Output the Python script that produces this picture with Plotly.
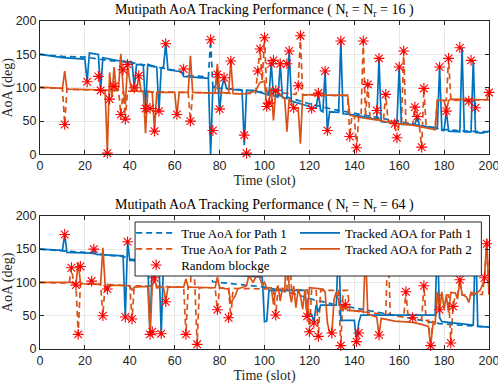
import plotly.graph_objects as go

# colours (MATLAB default order) and the blockage marker colour
BLUE = '#0072BD'
ORANGE = '#D95319'
RED = '#FF0000'
SERIF = 'Liberation Serif, Times New Roman, serif'
SANS = 'Liberation Sans, Arial, sans-serif'

# ---- data : (slot, AoA in deg) ----
# upper panel, Nt = Nr = 16
top_true1 = [(0,150),(10,147),(20,146),(30,141),(40,138),(50,132),(57,127),(62,125),(65,119),(75,116),(76,172),
             (77,100),(90,97),(100,93),(110,86),(120,76),(130,68),(140,62),(150,55),(160,49),(170,43),(178,38),
             (190,35),(200,34)]
top_true2 = [(0,100),(10,99),(11,45),(12,98),(20,97),(30,96),(35,96),(36,60),(37,95),(38,53),(39,95),(50,94),
             (60,93),(66,93),(67,50),(68,93),(80,92),(90,91),(96,92),(97,125),(98,158),(99,110),(100,175),(101,95),
             (110,92),(114,90),(115,103),(116,178),(117,89),(137,88),(138,27),(139,60),(140,58),(141,10),(142,57),
             (143,57),(144,170),(145,56),(146,105),(147,55),(153,52),(154,90),(155,51),(157,48),(158,46),(159,25),
             (160,47),(161,47),(162,155),(163,46),(166,44),(167,71),(168,57),(169,43),(170,11),(171,99),(172,42),
             (176,40),(177,81),(181,81),(182,144),(183,81),(200,82)]
top_track1 = [(0,150),(10,145),(20,143),(21,109),(22,152),(26,150),(27,96),(28,145),(34,141),(41,138),(42,100),
              (43,135),(46,134),(47,69),(48,135),(50,133),(52,131),(53,64),(54,130),(55,131),(56,166),(57,127),
              (60,126),(63,124),(64,117),(70,115),(75,114),(76,0),(77,102),(78,100),(79,120),(80,66),(81,100),
              (82,115),(83,99),(85,98),(90,96),(91,14),(92,96),(95,96),(100,91),(102,89),(103,136),(104,88),
              (106,86),(107,136),(108,85),(110,84),(111,155),(112,80),(116,76),(120,72),(121,69),(123,70),(124,92),
              (125,66),(126,64),(127,125),(128,36),(129,64),(133,63),(134,170),(135,61),(138,60),(145,56),(150,52),
              (151,144),(152,49),(159,47),(160,131),(161,45),(167,45),(168,57),(169,43),(177,40),(178,131),(179,36),
              (180,36),(181,65),(182,35),(187,34),(188,160),(189,34),(192,34),(193,141),(194,33),(197,32),(200,35)]
top_track2 = [(0,101),(10,99),(11,125),(12,98),(26,97),(29,95),(30,5),(31,123),(32,86),(33,131),(34,95),(35,100),
              (36,151),(37,100),(38,75),(39,134),(40,110),(41,95),(43,95),(44,118),(45,95),(46,95),(47,32),(48,95),
              (50,93),(51,35),(52,93),(60,93),(61,58),(62,93),(66,93),(67,148),(68,93),(78,92),(79,136),(80,93),
              (84,92),(85,141),(86,91),(92,91),(96,95),(98,108),(100,110),(101,72),(102,77),(103,100),(104,51),
              (105,96),(107,90),(109,84),(110,34),(111,84),(113,70),(115,69),(116,16),(117,89),(123,90),(124,94),
              (125,89),(137,89),(138,59),(143,55),(150,52),(157,47),(166,44),(170,41),(176,37),(177,81),(180,81),
              (181,65),(182,81),(183,83),(193,83),(194,82),(199,82),(200,93)]
top_block = [(11,45),(21,109),(26,117),(27,96),(30,2),(31,83),(33,102),(36,60),(37,127),(38,53),(39,135),(42,100),
             (44,118),(47,69),(49,69),(51,35),(53,65),(56,166),(61,60),(64,128),(67,50),(76,172),(77,36),(79,120),
             (80,68),(82,115),(85,140),(91,29),(92,2),(97,125),(98,158),(100,175),(101,72),(102,77),(103,136),
             (104,141),(105,96),(107,136),(110,136),(111,155),(113,70),(115,103),(116,178),(121,69),(124,92),
             (127,125),(128,36),(134,170),(138,27),(141,10),(144,170),(146,105),(150,66),(151,144),(154,90),(158,46),
             (159,25),(160,131),(162,155),(167,71),(168,57),(170,11),(171,99),(178,131),(181,65),(182,144),(187,160),
             (191,80),(192,141),(194,70),(200,93)]

# lower panel, Nt = Nr = 64
bot_true1 = [(0,150),(10,148),(20,145),(30,141),(37,139),(40,135),(50,132),(57,127),(62,125),(65,119),(75,116),
             (77,101),(90,97),(100,93),(110,86),(122,74),(130,68),(140,62),(150,55),(160,49),(170,43),(178,38),
             (190,35),(200,33)]
bot_true2 = [(0,100),(13,99),(14,122),(15,99),(16,99),(17,22),(18,98),(27,97),(28,50),(29,97),(40,95),(41,45),
             (42,95),(64,93),(65,22),(66,93),(67,93),(68,170),(69,93),(70,7),(71,92),(78,92),(79,59),(80,92),
             (84,91),(85,47),(86,91),(104,90),(105,51),(106,90),(110,89),(111,175),(112,89),(119,89),(120,26),
             (121,89),(123,89),(124,19),(125,88),(133,88),(134,5),(135,88),(137,88),(138,58),(154,52),(155,165),
             (156,51),(162,48),(163,86),(164,47),(170,44),(171,95),(172,43),(173,43),(174,5),(175,41),(176,40),
             (177,81),(182,81),(183,9),(184,64),(185,81),(186,81),(187,104),(188,81),(197,82),(198,107),(199,158),
             (200,82)]
bot_track1 = [(0,150),(10,148),(11,172),(12,145),(23,144),(24,150),(25,142),(37,140),(38,48),(39,161),(40,133),
              (48,132),(49,22),(50,130),(53,128),(54,23),(55,128),(57,127),(62,125),(65,120),(75,115),(77,111),
              (90,110),(99,108),(100,41),(101,42),(102,88),(118,88),(119,51),(121,52),(122,40),(123,66),(124,56),
              (125,66),(132,66),(133,170),(134,43),(140,43),(141,13),(142,40),(143,51),(176,51),(177,170),(178,47),
              (179,41),(193,36),(194,175),(195,34),(200,33)]
bot_track2 = [(0,100),(13,99),(14,100),(16,96),(17,130),(18,100),(19,98),(27,97),(28,152),(29,97),(30,90),(31,96),
              (40,95),(41,88),(42,93),(48,94),(49,25),(50,94),(51,107),(52,92),(55,93),(56,71),(57,93),(64,93),
              (65,105),(66,93),(78,92),(79,108),(80,92),(84,90),(85,68),(86,75),(87,80),(88,90),(92,95),(93,110),
              (95,100),(97,115),(99,96),(100,100),(101,92),(103,92),(104,67),(105,88),(106,95),(107,72),(108,92),
              (109,85),(110,170),(111,88),(112,70),(113,95),(114,62),(115,90),(116,80),(117,60),(118,88),(119,49),
              (120,92),(126,90),(127,86),(128,40),(129,24),(130,24),(131,75),(132,86),(133,72),(134,60),(135,58),
              (136,67),(137,58),(143,57),(144,55),(145,150),(146,52),(150,48),(151,21),(152,46),(158,42),(166,40),
              (170,37),(173,34),(174,5),(175,36),(176,38),(177,86),(178,59),(179,86),(180,60),(181,80),(182,55),
              (183,85),(185,84),(186,75),(187,104),(188,82),(190,78),(191,70),(192,85),(194,83),(196,88),(197,95),
              (198,107),(199,165),(200,82)]
bot_block = [(11,172),(14,122),(16,96),(17,22),(18,124),(23,102),(24,150),(28,50),(30,90),(38,48),(39,161),(41,45),
             (49,22),(50,26),(51,107),(54,23),(56,71),(65,22),(68,170),(70,7),(79,59),(84,47),(105,51),(111,175),
             (119,49),(120,26),(122,39),(124,19),(130,24),(134,5),(136,67),(141,11),(142,24),(151,21),(155,165),
             (163,86),(166,47),(171,95),(174,5),(178,59),(183,9),(184,64),(187,104),(198,107),(199,158)]

TITLES = ['Mutipath AoA Tracking Performance ( N<sub>t</sub> = N<sub>r</sub> = 16 )',
          'Mutipath AoA Tracking Performance ( N<sub>t</sub> = N<sub>r</sub> = 64 )']


def xs(pts):
    return [p[0] for p in pts]


def ys(pts):
    return [p[1] for p in pts]


fig = go.Figure()

panels = [('x', 'y', top_true1, top_true2, top_track1, top_track2, top_block, False),
          ('x2', 'y2', bot_true1, bot_true2, bot_track1, bot_track2, bot_block, True)]

# one legend per entry so the 2-column MATLAB style legend can be laid out row by row
for xa, ya, t1, t2, k1, k2, blk, leg in panels:
    # dashed = true AoA, solid = tracked AoA
    fig.add_trace(go.Scatter(x=xs(t1), y=ys(t1), mode='lines', name='True AoA for Path 1',
                             line=dict(color=BLUE, width=1.7, dash='6px,4px'),
                             xaxis=xa, yaxis=ya, showlegend=leg, legend='legend'))
    fig.add_trace(go.Scatter(x=xs(t2), y=ys(t2), mode='lines', name='True AoA for Path 2',
                             line=dict(color=ORANGE, width=1.7, dash='6px,4px'),
                             xaxis=xa, yaxis=ya, showlegend=leg, legend='legend2'))
    fig.add_trace(go.Scatter(x=xs(k1), y=ys(k1), mode='lines', name='Tracked AOA for Path 1',
                             line=dict(color=BLUE, width=1.7),
                             xaxis=xa, yaxis=ya, showlegend=leg, legend='legend4'))
    fig.add_trace(go.Scatter(x=xs(k2), y=ys(k2), mode='lines', name='Tracked AOA for Path 2',
                             line=dict(color=ORANGE, width=1.7),
                             xaxis=xa, yaxis=ya, showlegend=leg, legend='legend5'))
    fig.add_trace(go.Scatter(x=xs(blk), y=ys(blk), mode='markers', name='Random blockge',
                             marker=dict(symbol='asterisk-open', size=9, color=RED,
                                         line=dict(color=RED, width=1.1)),
                             cliponaxis=False, xaxis=xa, yaxis=ya, showlegend=leg, legend='legend3'))

ax_common = dict(range=[0, 200], showline=True, mirror='ticks', linecolor='#262626', linewidth=1,
                 ticks='inside', ticklen=4, tickcolor='#262626', showgrid=True, gridcolor='#E8E8E8',
                 gridwidth=1, zeroline=False, automargin=False, ticklabeloverflow='allow',
                 tickfont=dict(family=SANS, size=12.5, color='#262626'))

xt = dict(text='Time (slot)', font=dict(family=SERIF, size=14, color='#262626'), standoff=2)
yt = dict(text='AoA (deg)', font=dict(family=SERIF, size=14, color='#262626'), standoff=4)

leg_common = dict(orientation='v', xanchor='left', yanchor='middle', itemwidth=40,
                  font=dict(family=SERIF, size=13, color='#000'), bgcolor='rgba(0,0,0,0)',
                  borderwidth=0)
ROW_Y = [0.3537, 0.3049, 0.2561]
COL_X = [0.203, 0.568]

fig.update_layout(
    width=498, height=385,
    margin=dict(l=40, r=9, t=21, b=36),
    plot_bgcolor='white', paper_bgcolor='white',
    xaxis=dict(ax_common, dtick=20, anchor='y', domain=[0, 1], title=xt),
    yaxis=dict(ax_common, dtick=50, anchor='x', domain=[0.593, 1], title=yt),
    xaxis2=dict(ax_common, dtick=20, anchor='y2', domain=[0, 1], title=xt),
    yaxis2=dict(ax_common, dtick=50, anchor='x2', domain=[0, 0.406], title=yt),
    legend=dict(leg_common, x=COL_X[0], y=ROW_Y[0]),
    legend2=dict(leg_common, x=COL_X[0], y=ROW_Y[1]),
    legend3=dict(leg_common, x=COL_X[0], y=ROW_Y[2]),
    legend4=dict(leg_common, x=COL_X[1], y=ROW_Y[0]),
    legend5=dict(leg_common, x=COL_X[1], y=ROW_Y[1]),
    # legend frame (white box drawn over the curves, below the legend entries)
    shapes=[dict(type='rect', xref='paper', yref='paper', x0=0.2117, x1=0.983, y0=0.2226, y1=0.3872,
                 layer='above', fillcolor='white', line=dict(color='#262626', width=1))],
    annotations=[
        dict(text=TITLES[0], x=0.5, y=1, xref='paper', yref='paper', xanchor='center', yanchor='bottom',
             showarrow=False, font=dict(family=SERIF, size=14, color='#000')),
        dict(text=TITLES[1], x=0.5, y=0.406, xref='paper', yref='paper', xanchor='center', yanchor='bottom',
             showarrow=False, font=dict(family=SERIF, size=14, color='#000')),
    ],
)

# the page's default body margin would push the 498x385 figure out of the window
fig.write_html("out.html", config={'displayModeBar': False},
               post_script="document.body.style.margin='0';")
